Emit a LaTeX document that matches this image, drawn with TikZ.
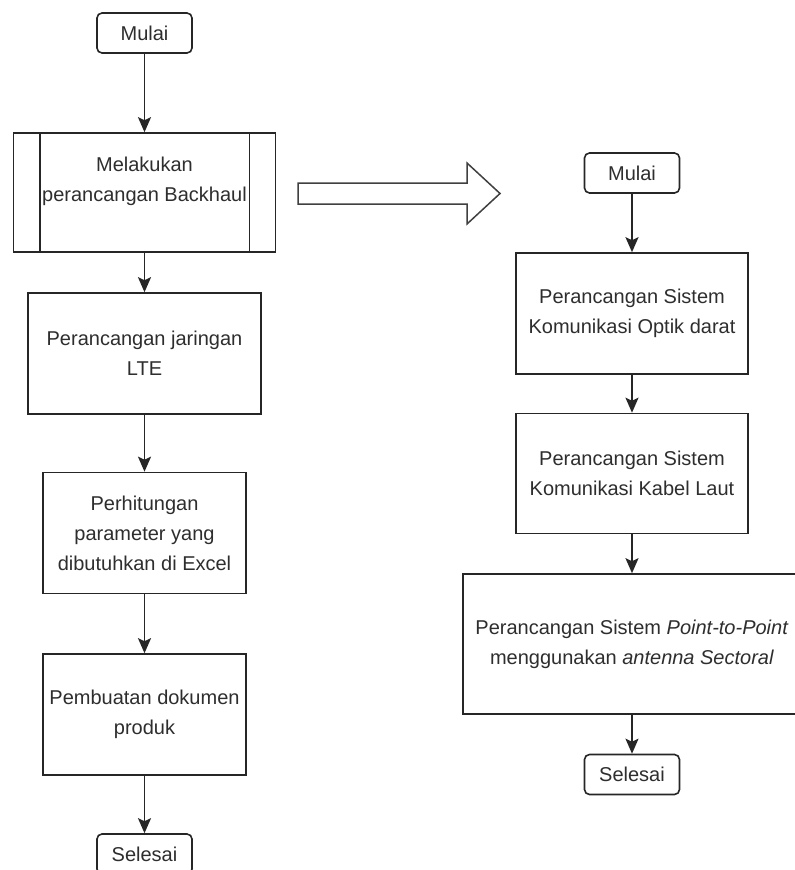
\documentclass[tikz,border=0pt]{standalone}
\usepackage{fontspec}
\setmainfont{Liberation Sans}
\usetikzlibrary{arrows.meta}
\newcommand{\txtfont}{\fontsize{20}{30}\selectfont}
\begin{document}
\begin{tikzpicture}[x=1pt,y=-1pt,
  line/.style={draw=black!85, line width=1.6pt},
  flow/.style={line, -{Stealth[length=15pt,width=13pt,inset=3pt]}},
  txt/.style={font=\txtfont, text=black!82, align=center, inner sep=0pt},
  box/.style={txt, draw=black!85, line width=1.6pt, rectangle},
  term/.style={box, rounded corners=5pt, minimum width=95pt, minimum height=40pt}]
\useasboundingbox (0,0) rectangle (795,870);
\clip (0,0) rectangle (795,870);
\fill[white] (0,0) rectangle (795,870);

% left column
\node[term] (m1) at (144.5,33) {Mulai};
\node[box, minimum width=262pt, minimum height=119pt] (bh) at (144.5,192.5) {};
\draw[line] ([xshift=27pt]bh.north west) -- ([xshift=27pt]bh.south west);
\draw[line] ([xshift=-27pt]bh.north east) -- ([xshift=-27pt]bh.south east);
\node[txt] (bht) at (144.5,181) {Melakukan\\perancangan Backhaul};
\node[box, minimum width=233pt, minimum height=121pt] (lte) at (144.5,353.5) {Perancangan jaringan\\LTE};
\node[box, minimum width=203pt, minimum height=121pt] (hit) at (144.5,533) {Perhitungan\\parameter yang\\dibutuhkan di Excel};
\node[box, minimum width=203pt, minimum height=121pt] (dok) at (144.5,714.5) {Pembuatan dokumen\\produk};
\node[term] (s1) at (144.5,854) {Selesai};

\draw[flow] (m1) -- (bh);
\draw[flow] (bh) -- (lte);
\draw[flow] (lte) -- (hit);
\draw[flow] (hit) -- (dok);
\draw[flow] (dok) -- (s1);

% big hollow arrow
\draw[draw=black!75, line width=1.5pt, line join=miter]
  (298,183) -- (467,183) -- (467,163) -- (500,193.5) -- (467,224) -- (467,204) -- (298,204) -- cycle;

% right column
\node[term] (m2) at (632,173) {Mulai};
\node[box, minimum width=232pt, minimum height=121pt] (opt) at (632,313.5) {Perancangan Sistem\\Komunikasi Optik darat};
\node[box, minimum width=232pt, minimum height=120pt] (kab) at (632,473.5) {Perancangan Sistem\\Komunikasi Kabel Laut};
\node[box, minimum width=338pt, minimum height=140pt] (ptp) at (632,644) {Perancangan Sistem \textit{Point-to-Point}\\menggunakan \textit{antenna Sectoral}};
\node[term] (s2) at (632,774.5) {Selesai};

\draw[flow] (m2) -- (opt);
\draw[flow] (opt) -- (kab);
\draw[flow] (kab) -- (ptp);
\draw[flow] (ptp) -- (s2);
\end{tikzpicture}
\end{document}
